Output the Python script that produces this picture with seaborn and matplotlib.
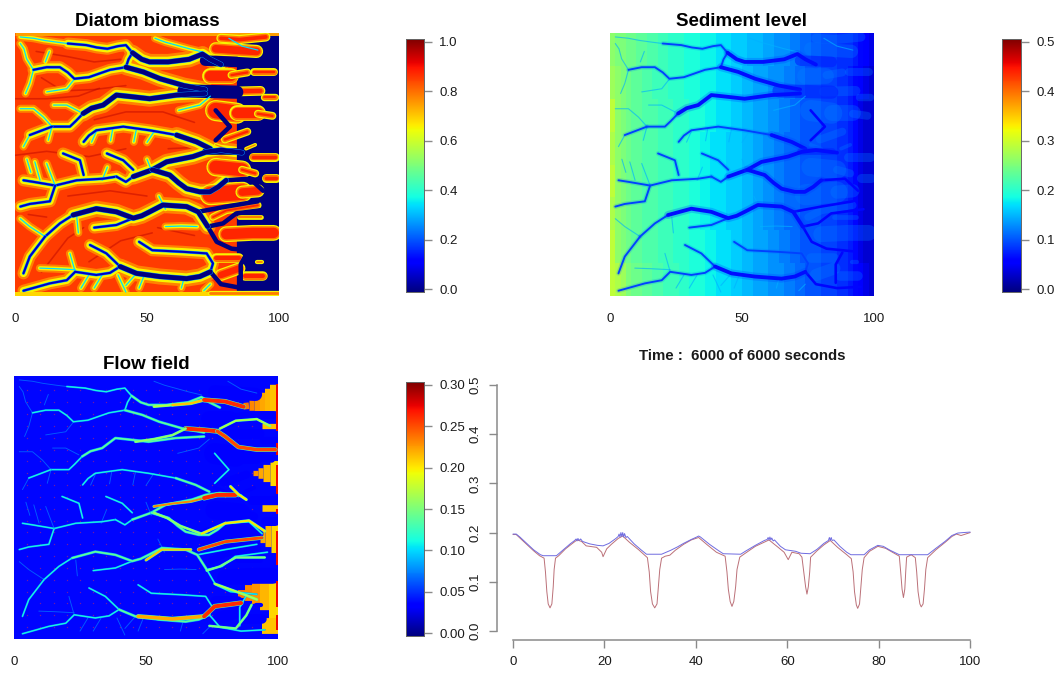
"""
Diatom / sediment / flow panels plus the cross-section profile.
Base fields are coarse hand-read cells, the channel network is traced from the
picture and drawn as line series on top, in the panels' 0-100 coordinates.
"""

import matplotlib
matplotlib.use('Agg')
import matplotlib.pyplot as plt
import numpy as np
import seaborn as sns

# channel traces, (x, y)
THIN_CHANNELS = [
    [(2, 98.5), (7, 98), (11, 97.2), (16, 96.5), (20, 96)],
    [(53, 98), (57, 96.5), (61, 95.4), (66, 94), (71, 92.8)],
    [(81, 98), (86, 95), (92, 93.5)],
    [(7, 86), (4.4, 90.2), (3.4, 94), (2, 96)],
    [(7, 86), (5.6, 80.8), (4, 77)],
    [(22.6, 82.6), (19.6, 78.8), (12, 77.6)],
    [(13, 93), (11.5, 89)],
    [(14, 64.4), (10.8, 68), (7, 71.2), (2, 71.2)],
    [(24.6, 70), (19.6, 72.6), (14.6, 72.6)],
    [(74, 76), (70, 72.6), (62, 70.6)],
    [(5.6, 61.2), (3.2, 56.8)],
    [(14, 64.4), (12.6, 59.2)],
    [(37, 63.5), (36.2, 59)],
    [(46, 63.5), (45, 58.6)],
    [(53, 63), (50, 58.4)],
    [(31, 63), (29, 58.5)],
    [(15.2, 42), (12, 50.4)],
    [(6, 47), (4.5, 52)],
    [(9.5, 44), (7.5, 51)],
    [(50, 52), (52, 47)],
    [(35, 49), (33, 44)],
    [(57, 33), (54.5, 38)],
    [(11.4, 22.6), (5.6, 26.4), (2, 29.4)],
    [(23.4, 30), (24, 24)],
    [(22.8, 9.2), (20.8, 16.2)],
    [(22.8, 10), (15, 10.4), (9.4, 10.6)],
    [(46, 8.6), (42, 4)],
    [(33, 8), (30, 3)],
    [(49, 8), (47, 3)],
    [(64, 6.6), (63, 3)],
    [(74, 4.5), (71.5, 2)],
    [(57, 26.4), (63, 26.6), (69, 26.4)],
    [(42, 1.5), (39, 8)],
    [(28, 8), (25, 3)],
    [(30, 26), (38.4, 27)],
]
MID_CHANNELS = [
    [(20, 96), (27, 95.4), (31, 94.5), (35, 94), (39, 95), (42, 95.4), (44.5, 92.5)],
    [(7, 86), (12, 87), (17, 87), (20, 85), (22.5, 82.6), (28, 83.2), (36, 86), (42, 87), (43, 90), (44.5, 92.5)],
    [(14, 64.4), (20.8, 64.4), (23, 66.5), (25.8, 69.4)],
    [(5.6, 61.2), (14, 64.4)],
    [(26, 58.6), (28, 61), (30.8, 63), (41, 64.4), (51, 63), (61.2, 61.2)],
    [(3.2, 44), (7, 43.4), (15.2, 42), (23.4, 44), (33.4, 44.6), (38.4, 45.4)],
    [(38.4, 45.4), (42, 43.4), (44.8, 45.4)],
    [(15.2, 42), (13.2, 36), (5.6, 35), (2, 34)],
    [(26, 46), (24.6, 51.6), (18.2, 54.2)],
    [(44.8, 48), (41, 51.6), (34.8, 54.2)],
    [(11.4, 22.6), (17, 27.6), (22, 30.8)],
    [(11.4, 22.6), (5.6, 15), (3.2, 8.6)],
    [(44.8, 29.6), (38.4, 27), (30, 26)],
    [(3.2, 2), (13.2, 4.8), (19.6, 6), (22.8, 9.2), (30.8, 8), (36, 8.8), (39.8, 11.2)],
    [(39.8, 11.2), (34.6, 16.2), (28.4, 19.4)],
    [(47, 20.6), (52, 17.4), (63.6, 16.8), (72.6, 16.2), (75, 12.4), (74, 9.2)],
]
RIGHT_CHANNELS = [
    [(76, 70.6), (81.4, 64.4), (76, 59.2)],
    [(80, 44), (89, 44.6), (94, 40)],
    [(73, 26.4), (78.8, 27.6), (83.8, 31.4), (96, 33)],
    [(69.4, 32), (80, 34), (92, 36)],
    [(74, 9.2), (78, 4.5), (86, 3), (95, 3.5)],
    [(85.5, 5), (85.5, 12), (88, 16.5)],
    [(73, 26.4), (76.4, 20.6), (82, 18), (92, 17)],
]
WIDE_CHANNELS = [
    [(44.5, 92.5), (48, 90), (51, 89), (58, 89), (66, 90), (71, 92), (74, 90), (78, 88)],
    [(42, 87), (48.6, 85.2), (55, 82.6), (64, 80), (72, 78.5)],
    [(25.8, 69.4), (29, 71.4), (33.4, 72.6), (38.4, 76.4), (44, 75.8), (51, 75), (61.2, 76.4), (72, 77)],
    [(61.2, 61.2), (68.8, 58.6), (74, 56)],
    [(44.8, 45.4), (52, 48), (57.4, 51), (67.4, 53), (72.6, 54.8), (78, 55.5), (86, 54.5)],
    [(52, 48), (58.6, 46), (62, 43), (65, 40.8), (70, 39.6), (73.8, 39.6), (77, 41.5), (80, 44)],
    [(22, 30.8), (30.8, 33.2), (38.4, 32), (44.8, 29.6), (48, 30.5), (51, 32), (56, 34.6), (65, 34), (69.4, 32), (73, 26.4)],
    [(39.8, 11.2), (46, 8.6), (54.8, 7.4), (65, 6.6), (70, 7.4), (74, 9.2)],
]
# dark crests between the channels
RIDGES = [
    [(8, 93), (20, 91), (30, 89), (40, 90)],
    [(10, 83), (18, 78), (30, 78.5), (42, 80)],
    [(0, 75), (12, 75), (24, 76), (32, 79)],
    [(30, 67), (42, 70), (56, 70), (68, 66)],
    [(0, 53.5), (12, 55), (28, 53), (42, 56)],
    [(58, 56), (68, 56.5)],
    [(20, 38), (36, 40), (50, 38)],
    [(5, 31), (12, 30)],
    [(10, 9), (20, 22), (26, 26)],
    [(54, 26), (68, 23)],
    [(28, 13), (40, 21), (52, 24)],
]
# polyline, thickness in x/y units
BLUE_AREAS = [
    ([(64, 78), (84, 77.5)], 5),
    ([(72, 89.5), (84, 89)], 4),
    ([(72, 55), (84, 55)], 2.5),
]
LOBES = [
    ([(78, 98), (85, 97.5), (95, 98.5)], 3.5),
    ([(76, 94), (83, 93.5), (91.5, 93)], 5),
    ([(90.5, 85), (98, 85)], 3),
    ([(74, 83.5), (82, 83.5)], 6),
    ([(82, 84), (88, 85)], 3),
    ([(81, 77.7), (93, 78)], 3.7),
    ([(94.5, 75.5), (98.5, 75.5)], 2.8),
    ([(76, 70.5), (84, 69.5)], 8),
    ([(84, 69.5), (92, 69.5)], 6),
    ([(92, 69.3), (97.5, 68.5)], 3),
    ([(79.5, 59.5), (88, 62.5)], 3),
    ([(76, 57.5), (80, 56)], 1.4),
    ([(87.5, 56), (91, 57.5)], 1.4),
    ([(90, 53), (98.5, 53)], 3.4),
    ([(76, 49), (86, 48)], 7),
    ([(86, 48), (91, 46.6)], 3),
    ([(95, 45), (99, 45)], 3.4),
    ([(74, 38.5), (86, 39.5)], 8),
    ([(86, 39.5), (92, 40)], 5),
    ([(75, 30), (80, 32.5), (92, 34.5)], 2.8),
    ([(85, 30), (93, 30)], 1.8),
    ([(80, 23.5), (90, 24), (98, 24)], 6),
    ([(76, 14.5), (85, 14.5)], 3.6),
    ([(91.5, 13), (93.5, 13)], 1.6),
    ([(78, 8), (85, 10.5)], 4.6),
    ([(87, 7.5), (94, 7.5)], 3.6),
    ([(74, 1), (100, 1)], 2),
]

# base cells: one digit = 0.095 biomass, open water from x = 84
DIATOM_BASE = [
    "9999999999999999999990000",
    "9999999999999999999990000",
    "9999999999999999999990000",
    "9999999999999999999990000",
    "9999999999999999999990000",
    "9999999999999999999990000",
    "9999999999999999999990000",
    "9999999999999999999990000",
    "9999999999999999999990000",
    "9999999999999999999990000",
]
# base36 digit = 0.01 sediment
SEDIMENT_BASE = [
    "qppoonnmmllkkkjjjiiihhhgggfffeedddccbbaa9998887654",
    "rqponnmmlllkkkjjjiiihhhggffeeedddccbbaaa9998876543",
    "tqponnmmmlllkkkjjjiihhhggffeeeddccbbaaaa999887643",
    "sqponnmmmlllkkkjjiihhhgggffeeddccbbbaaaa999887643",
    "tqponnmmmlllkkkjjiihhhgggffeeddccbbbaaaa999887643",
    "sqponnmmmlllkkkjjiihhhgggffeeddccbbbaaaa999887643",
    "tqponnmmmlllkkkjjjiihhhggffeeeddccbbaaaa999887643",
    "tsrpoonnmmlllkkjjjiihhhggffeeedddccbbaaa9998876543",
]
# one hex digit = 0.036 flow, the quiet field behind the channels
FLOW_BASE = [
    "1111111111",
    "1111111111",
    "1111111111",
    "1111111111",
    "1111111111",
    "1111111111",
    "1111111111",
    "1111111111",
    "1111111111",
    "1111111111",
]
# fans of fast water at the seaward edge: polyline, flow value, width in units
FLOW_FANS = [
    ([(87, 88.5), (89, 88.7)], 0.235, 2.5),
    ([(89, 89), (91, 89)], 0.23, 4),
    ([(91, 89.5), (93, 89.5)], 0.225, 5.5),
    ([(93, 90.2), (95, 90.2)], 0.22, 7),
    ([(95, 91), (97, 91)], 0.215, 8.5),
    ([(97, 91.5), (100, 91.5)], 0.21, 10),
    ([(94, 81), (100, 81)], 0.21, 2),
    ([(90.5, 63), (92.5, 63)], 0.225, 2),
    ([(92.5, 63), (94.5, 63)], 0.22, 4),
    ([(94.5, 63), (97, 63)], 0.215, 6.5),
    ([(97, 63), (100, 63)], 0.205, 9.5),
    ([(94, 50), (100, 50)], 0.21, 2.5),
    ([(91, 39.5), (93, 39.5)], 0.225, 2.5),
    ([(93, 39), (95, 39)], 0.22, 5),
    ([(95, 39), (97.5, 39)], 0.215, 8),
    ([(97.5, 38.5), (100, 38.5)], 0.205, 11),
    ([(85, 17), (87.5, 17)], 0.235, 3),
    ([(87.5, 17.5), (90, 17.5)], 0.23, 6),
    ([(90, 18), (93, 18)], 0.225, 9),
    ([(93, 17.5), (96.5, 17.5)], 0.215, 13),
    ([(96.5, 16), (100, 16)], 0.205, 18),
    ([(94, 5), (100, 5)], 0.21, 6),
]
# fast reaches of the flow field: polyline, flow value, width in px
FLOW_HOT = [
    ([(53, 88.4), (60, 89)], 0.17, 2),
    ([(60, 89), (67, 89.6), (72, 90.9)], 0.21, 2.5),
    ([(72, 90.9), (80, 90.3), (87, 88.3)], 0.26, 4),
    ([(65, 80), (72, 79.5), (77, 79)], 0.26, 4),
    ([(77, 79), (80, 77), (85, 73), (92, 72), (99, 72)], 0.25, 3.5),
    ([(78, 80), (84, 83), (92, 83.6), (97, 81)], 0.17, 1.6),
    ([(46, 75), (53, 76), (60, 77.5), (65, 80)], 0.16, 1.7),
    ([(53, 50.4), (60, 51.5), (67, 52.3), (72, 53.6)], 0.23, 2),
    ([(72, 53.6), (77, 54.8), (84, 54.8)], 0.26, 4),
    ([(53, 48), (58, 46), (63, 43), (71, 40)], 0.16, 1.7),
    ([(71, 40), (80, 44), (89, 45), (95, 41)], 0.2, 2),
    ([(70, 34), (80, 37), (94, 38.5)], 0.25, 3),
    ([(50, 30), (56, 34), (67, 34)], 0.21, 2),
    ([(73, 26), (78, 27.6), (84, 31), (95, 31)], 0.15, 1.5),
    ([(47, 8.6), (60, 7.6), (72, 8.6)], 0.22, 3.5),
    ([(72, 8.6), (76, 12.4), (86, 13.7)], 0.26, 4),
    ([(76, 21), (87, 17), (92, 15)], 0.17, 1.7),
    ([(74, 5), (84, 4), (88, 9), (90, 13)], 0.15, 1.5),
    ([(82, 58), (85, 55), (88, 53)], 0.2, 2),
]
RIGHT_EDGE = [
    [(99.7, 97), (99.7, 79)],
    [(99.7, 74.5), (99.7, 70)],
    [(99.7, 66), (99.7, 55)],
    [(99.7, 49.5), (99.7, 47.5)],
    [(99.7, 41), (99.7, 28)],
    [(99.7, 22), (99.7, 12)],
    [(99.7, 9), (99.7, 3.5)],
]
FLOW_DOT_X = [5, 10, 15, 20, 25, 30, 35, 40, 45, 50, 55, 60, 65, 70, 75, 80, 85, 90]
FLOW_DOT_Y = [4.5, 9, 13.5, 18, 22.5, 27, 31.5, 36, 40.5, 45, 49.5, 54, 58.5, 63, 67.5, 72, 76.5, 81, 85.5, 90, 94.5]

# profile at the end of the run
SEDIMENT_LINE_X = [0, 0.7, 1.5, 3, 4.5, 5.8, 6.8, 7.1, 7.4, 7.7, 8.1, 8.5, 8.8, 9.0, 9.3, 10, 11.5, 13, 14, 15, 16, 18.3, 19.4, 19.7, 20.5, 21.5, 23, 24, 25.5, 27.5, 29.4, 29.8, 30.1, 30.5, 31, 31.5, 31.8, 32.1, 32.5, 33.3, 34.3, 35.5, 37.3, 39, 40.6, 42.5, 44.5, 46.4, 46.8, 47.1, 47.5, 47.9, 48.3, 48.7, 49, 49.6, 50.5, 53, 56, 58, 59.3, 60.2, 61, 62.6, 63.2, 63.6, 64, 64.3, 64.6, 64.9, 65.1, 66.5, 68, 69.4, 71, 73, 74, 74.4, 74.7, 75.1, 75.4, 75.8, 76.1, 76.4, 76.8, 78, 79.8, 81.5, 83, 84.5, 84.8, 85.1, 85.4, 85.7, 85.9, 86.1, 87.1, 88, 88.3, 88.6, 89, 89.3, 89.7, 90, 90.3, 90.7, 92.5, 94.5, 96, 97, 98, 99, 100]
SEDIMENT_LINE_Y = [0.196, 0.196, 0.189, 0.176, 0.163, 0.153, 0.148, 0.12, 0.08, 0.055, 0.047, 0.055, 0.09, 0.125, 0.148, 0.153, 0.167, 0.178, 0.185, 0.182, 0.173, 0.17, 0.16, 0.151, 0.167, 0.176, 0.188, 0.193, 0.18, 0.165, 0.149, 0.12, 0.08, 0.055, 0.047, 0.055, 0.09, 0.125, 0.148, 0.152, 0.154, 0.164, 0.176, 0.185, 0.19, 0.175, 0.16, 0.152, 0.12, 0.085, 0.06, 0.05, 0.06, 0.09, 0.125, 0.15, 0.156, 0.172, 0.185, 0.17, 0.16, 0.145, 0.16, 0.157, 0.15, 0.12, 0.09, 0.075, 0.09, 0.12, 0.15, 0.163, 0.175, 0.184, 0.17, 0.155, 0.147, 0.12, 0.08, 0.053, 0.046, 0.055, 0.09, 0.125, 0.149, 0.162, 0.172, 0.168, 0.16, 0.152, 0.12, 0.085, 0.068, 0.085, 0.12, 0.15, 0.155, 0.149, 0.12, 0.08, 0.055, 0.049, 0.055, 0.085, 0.125, 0.149, 0.165, 0.18, 0.192, 0.197, 0.194, 0.197, 0.2]
WATER_LINE_X = [0, 0.7, 1.5, 3, 4.5, 6, 6.6, 9.5, 11, 12.5, 13.5, 13.8, 14, 14.2, 14.5, 14.8, 15.2, 16.8, 18.5, 19.7, 21, 22.5, 23, 23.2, 23.4, 23.6, 23.8, 24, 24.2, 24.4, 24.7, 25, 26.5, 28, 29.2, 32.5, 34.5, 36, 37.3, 39, 40.2, 40.6, 41, 43, 45, 46, 49.8, 51, 53, 55, 55.6, 55.8, 56, 56.2, 56.4, 56.6, 56.9, 57.2, 58.5, 59.6, 61.8, 63, 65, 66.5, 68, 69, 69.2, 69.4, 69.6, 69.8, 70.2, 71.5, 73, 73.9, 76.8, 78, 79.8, 81, 82.5, 84.5, 90.7, 92.5, 94.5, 96, 97.3, 98.5, 100]
WATER_LINE_Y = [0.197, 0.197, 0.191, 0.178, 0.165, 0.155, 0.153, 0.153, 0.165, 0.177, 0.184, 0.187, 0.183, 0.188, 0.184, 0.187, 0.182, 0.177, 0.174, 0.173, 0.178, 0.188, 0.192, 0.197, 0.191, 0.2, 0.192, 0.2, 0.191, 0.198, 0.19, 0.192, 0.177, 0.165, 0.156, 0.156, 0.164, 0.171, 0.178, 0.186, 0.191, 0.193, 0.191, 0.176, 0.163, 0.157, 0.156, 0.163, 0.174, 0.184, 0.186, 0.19, 0.185, 0.191, 0.185, 0.189, 0.183, 0.185, 0.172, 0.165, 0.162, 0.158, 0.157, 0.166, 0.178, 0.184, 0.19, 0.184, 0.19, 0.184, 0.185, 0.172, 0.16, 0.155, 0.155, 0.165, 0.174, 0.172, 0.164, 0.155, 0.155, 0.168, 0.182, 0.194, 0.199, 0.2, 0.201]

W, H = 1061, 673
GREY = '#8a8a8a'
TEXT = '#1a1a1a'
PX = 0.72      # line width in points per pixel
UNIT = 2.64    # pixels per panel unit
JET = plt.get_cmap('jet')


def caixa(x0, y0, x1, y1):
    return [x0 / W, 1 - y1 / H, (x1 - x0) / W, (y1 - y0) / H]


def grade(rows, base, passo):
    n = max(len(r) for r in rows)
    return np.array([[int(c, base) * passo for c in r.ljust(n, r[-1])] for r in rows])


def painel(fig, dados, rect, rect_cb, titulo, vmin, vmax, ticks, fmt):
    ax = fig.add_axes(caixa(*rect))
    cax = fig.add_axes(caixa(*rect_cb))
    sns.heatmap(dados, ax=ax, cbar_ax=cax, cmap='jet', vmin=vmin, vmax=vmax,
                xticklabels=False, yticklabels=False,
                cbar_kws={'ticks': ticks, 'format': fmt})
    n = dados.shape[1]
    ax.set_xticks([0, n / 2, n])
    ax.set_xticklabels(['0', '50', '100'])
    ax.tick_params(axis='x', length=6.5, width=1, color=GREY, pad=6,
                   labelsize=9.5, labelcolor=TEXT)
    ax.tick_params(axis='y', length=0)
    ax.set_title(titulo, fontsize=13.5, fontweight='bold', color='black', pad=5)
    cax.tick_params(axis='y', length=6, width=1, color=GREY, pad=5,
                    labelsize=9.5, labelcolor=TEXT)
    for s in cax.spines.values():
        s.set_visible(True)
        s.set_color('#666666')
        s.set_linewidth(0.6)
    topo = fig.add_axes(caixa(*rect))
    topo.patch.set_alpha(0)
    return topo


def fecha(ax):
    ax.set_xlim(0, 100)
    ax.set_ylim(0, 100)
    ax.axis('off')


def traco(ax, pontos, cor, px, alpha=1.0, cap='round'):
    xs = [p[0] for p in pontos]
    ys = [p[1] for p in pontos]
    sns.lineplot(x=xs, y=ys, ax=ax, color=cor, lw=px * PX, alpha=alpha, estimator=None,
                 sort=False, legend=False, solid_capstyle=cap, solid_joinstyle='round')


def diatom(ax):
    cor = lambda v: JET(v)
    for c in RIDGES:
        traco(ax, c, cor(0.95), 1.6, alpha=0.45)
    # yellow flanks along every channel
    for grupo, px in [(THIN_CHANNELS, 8), (MID_CHANNELS, 12), (WIDE_CHANNELS, 16)]:
        for c in grupo:
            traco(ax, c, cor(0.77), px)
    for grupo, px in [(THIN_CHANNELS, 4), (MID_CHANNELS, 7.5), (WIDE_CHANNELS, 10.5)]:
        for c in grupo:
            traco(ax, c, cor(0.65), px)
    # the open water on the right wipes the flanks again
    traco(ax, [(92, 0), (92, 100)], cor(0), 16 * UNIT, cap='butt')
    traco(ax, [(0, 99.5), (100, 99.5)], cor(0.74), 3, cap='butt')
    traco(ax, [(0, 0.8), (74, 0.8)], cor(0.68), 4, cap='butt')
    for pts, t in LOBES:
        traco(ax, pts, cor(0.65), t * UNIT)
        if t * UNIT > 3:
            traco(ax, pts, cor(0.78), t * UNIT - 2.5)
        if t * UNIT > 7:
            traco(ax, pts, cor(0.87), t * UNIT - 5.5)
    for pts, t in BLUE_AREAS:
        traco(ax, pts, cor(0), t * UNIT)
    for c in THIN_CHANNELS:
        traco(ax, c, cor(0.34), 1.2)
    for c in MID_CHANNELS:
        traco(ax, c, cor(0.3), 3)
        traco(ax, c, cor(0.06), 2.1)
    for c in RIGHT_CHANNELS:
        traco(ax, c, cor(0), 4.5)
    for c in WIDE_CHANNELS:
        traco(ax, c, cor(0.28), 5.6)
        traco(ax, c, cor(0), 4.8)
    fecha(ax)


def sedimento(ax):
    cor = lambda v: JET(v / 0.5)
    for pts, t in LOBES[:-1]:
        traco(ax, pts, cor(0.125), t * UNIT, alpha=0.3)
    for pts, t in BLUE_AREAS:
        traco(ax, pts, cor(0.075), t * UNIT, alpha=0.55)
    for c in THIN_CHANNELS:
        traco(ax, c, cor(0.15), 1.1, alpha=0.65)
    for c in MID_CHANNELS:
        traco(ax, c, cor(0.11), 4.5, alpha=0.2)
        traco(ax, c, cor(0.095), 1.9)
    for c in RIGHT_CHANNELS:
        traco(ax, c, cor(0.065), 2.6)
    for c in WIDE_CHANNELS:
        traco(ax, c, cor(0.09), 8, alpha=0.25)
        traco(ax, c, cor(0.07), 3.8)
    fecha(ax)


def fluxo(ax):
    cor = lambda v: JET(v / 0.3)
    xs, ys = np.meshgrid(FLOW_DOT_X, FLOW_DOT_Y)
    for pts, v, t in FLOW_FANS:
        traco(ax, pts, cor(v), t * UNIT, cap='butt')
    for pts, t in LOBES[1:-1]:
        traco(ax, pts, cor(0.036), t * UNIT)
    for c in RIGHT_EDGE:
        traco(ax, c, cor(0.27), 2, cap='butt')
    for c in THIN_CHANNELS:
        traco(ax, c, cor(0.065), 0.9)
    for c in MID_CHANNELS + RIGHT_CHANNELS:
        traco(ax, c, cor(0.085), 1.9)
        traco(ax, c, cor(0.115), 1)
    for c in WIDE_CHANNELS:
        traco(ax, c, cor(0.09), 2.8)
        traco(ax, c, cor(0.14), 1.7)
    for pts, v, px in FLOW_HOT:
        traco(ax, pts, cor(0.13), px + 1)
        traco(ax, pts, cor(v), px)
    sns.scatterplot(x=xs.ravel(), y=ys.ravel(), ax=ax, color='#e0304a', s=1,
                    linewidth=0, alpha=0.5, legend=False)
    fecha(ax)


sns.set_theme(style='white')
plt.rcParams['font.family'] = ['Liberation Sans', 'DejaVu Sans']

fig = plt.figure(figsize=(W / 100, H / 100), dpi=100)

diatom(painel(fig, grade(DIATOM_BASE, 10, 0.095), (15, 33, 279, 296), (406, 39, 424, 292),
              'Diatom biomass', -0.012, 1.012, [0, 0.2, 0.4, 0.6, 0.8, 1.0], '%.1f'))
sedimento(painel(fig, grade(SEDIMENT_BASE, 36, 0.01), (610, 33, 874, 296), (1002, 39, 1021, 292),
                 'Sediment level', -0.006, 0.506, [0, 0.1, 0.2, 0.3, 0.4, 0.5], '%.1f'))
fluxo(painel(fig, grade(FLOW_BASE, 16, 0.036), (14, 376, 278, 639), (406, 382, 424, 636),
             'Flow field', -0.0036, 0.3036, [0, 0.05, 0.1, 0.15, 0.2, 0.25, 0.3], '%.2f'))

# perfil
ax = fig.add_axes(caixa(497, 381, 988, 640))
sns.lineplot(x=SEDIMENT_LINE_X, y=SEDIMENT_LINE_Y, ax=ax, color='#bb7078', lw=0.7,
             estimator=None, sort=False)
sns.lineplot(x=WATER_LINE_X, y=WATER_LINE_Y, ax=ax, color='#6f6be0', lw=0.7,
             estimator=None, sort=False)
ax.set_xlim(-3.5, 103.9)
ax.set_ylim(-0.0183, 0.508)
ax.set_xticks([0, 20, 40, 60, 80, 100])
ax.set_yticks([0, 0.1, 0.2, 0.3, 0.4, 0.5])
ax.set_yticklabels(['0.0', '0.1', '0.2', '0.3', '0.4', '0.5'], rotation=90, va='center')
ax.tick_params(axis='both', length=5.5, width=1, color=GREY, labelsize=9.5,
               labelcolor=TEXT, pad=6, bottom=True, left=True)
sns.despine(ax=ax)
ax.spines['left'].set_bounds(0, 0.5)
ax.spines['bottom'].set_bounds(0, 100)
for lado in ['left', 'bottom']:
    ax.spines[lado].set_color(GREY)
    ax.spines[lado].set_linewidth(1.1)
ax.patch.set_alpha(0)
fig.text(742 / W, 1 - 356 / H, 'Time :  6000 of 6000 seconds', fontsize=10.8,
         fontweight='bold', color=TEXT, ha='center', va='center')

plt.savefig('out.png', dpi=100)
plt.close()
